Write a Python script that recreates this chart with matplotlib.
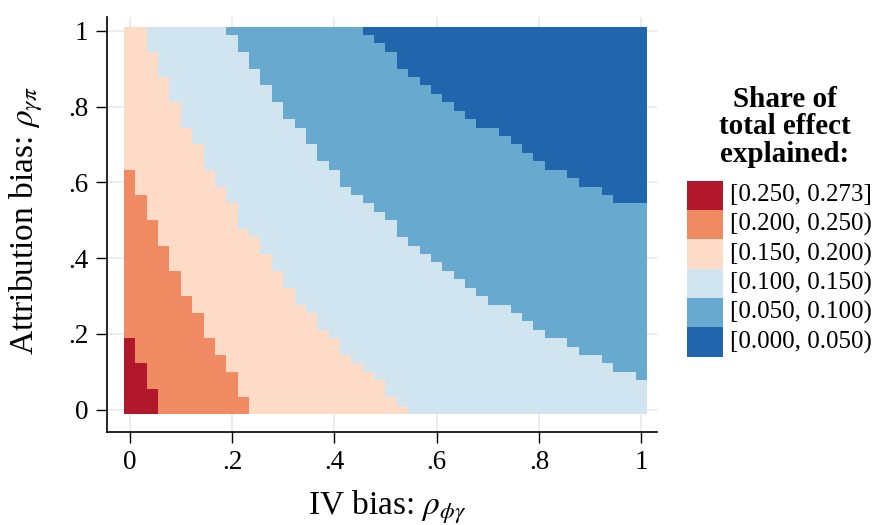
import numpy as np
import matplotlib
matplotlib.use("Agg")
import matplotlib.pyplot as plt
from matplotlib.colors import ListedColormap, BoundaryNorm
from matplotlib.patches import Rectangle

plt.rcParams['font.family'] = ['Liberation Serif', 'DejaVu Serif']
plt.rcParams['mathtext.fontset'] = 'stix'

# ---- data -------------------------------------------------------------
# grid of 46 x 46 points on [0, 1] (step 1/45) for both axes
n_grid = 46
x_min, x_max = 0.0, 1.0
y_min, y_max = 0.0, 1.0

# For each column (IV bias value), number of rows from the bottom whose
# share is at least the given threshold.
rows_ge_025 = [9, 6, 3, 0, 0, 0, 0, 0, 0, 0, 0, 0, 0, 0, 0, 0, 0, 0, 0, 0, 0, 0, 0,
               0, 0, 0, 0, 0, 0, 0, 0, 0, 0, 0, 0, 0, 0, 0, 0, 0, 0, 0, 0, 0, 0, 0]
rows_ge_020 = [29, 26, 23, 20, 17, 14, 12, 9, 7, 5, 2, 0, 0, 0, 0, 0, 0, 0, 0, 0, 0, 0, 0,
               0, 0, 0, 0, 0, 0, 0, 0, 0, 0, 0, 0, 0, 0, 0, 0, 0, 0, 0, 0, 0, 0, 0]
rows_ge_015 = [46, 46, 43, 40, 37, 34, 32, 29, 27, 25, 22, 21, 19, 17, 15, 13, 12, 10, 9, 7,
               6, 5, 4, 2, 1, 0, 0, 0, 0, 0, 0, 0, 0, 0, 0, 0, 0, 0, 0, 0, 0, 0, 0, 0, 0, 0]
rows_ge_010 = [46, 46, 46, 46, 46, 46, 46, 46, 46, 45, 43, 41, 39, 37, 35, 34, 32, 30, 29, 27,
               26, 25, 24, 23, 21, 20, 19, 18, 17, 16, 15, 14, 13, 13, 12, 11, 10, 9, 9, 8,
               7, 7, 6, 5, 5, 4]
rows_ge_005 = [46, 46, 46, 46, 46, 46, 46, 46, 46, 46, 46, 46, 46, 46, 46, 46, 46, 46, 46, 46,
               46, 45, 44, 43, 41, 40, 39, 38, 37, 36, 35, 34, 34, 33, 32, 31, 30, 29, 29, 28,
               27, 27, 26, 25, 25, 25]

level_bounds = [0.000, 0.050, 0.100, 0.150, 0.200, 0.250, 0.273]
level_colors = ['#2166ac', '#67a9cf', '#d1e5f0', '#fddbc7', '#ef8a62', '#b2182b']

x_ticks = [0, 0.2, 0.4, 0.6, 0.8, 1.0]
x_tick_labels = ['0', '.2', '.4', '.6', '.8', '1']
y_ticks = [0, 0.2, 0.4, 0.6, 0.8, 1.0]
y_tick_labels = ['0', '.2', '.4', '.6', '.8', '1']

# ---- build level grid -------------------------------------------------
rows = np.arange(n_grid)[:, None]
Z = np.zeros((n_grid, n_grid), dtype=int)
for counts in (rows_ge_005, rows_ge_010, rows_ge_015, rows_ge_020, rows_ge_025):
    Z += (rows < np.asarray(counts)[None, :]).astype(int)

dx = (x_max - x_min) / (n_grid - 1)
dy = (y_max - y_min) / (n_grid - 1)
x_edges = np.linspace(x_min - dx / 2, x_max + dx / 2, n_grid + 1)
y_edges = np.linspace(y_min - dy / 2, y_max + dy / 2, n_grid + 1)

cmap = ListedColormap(level_colors)
norm = BoundaryNorm(np.arange(-0.5, len(level_colors) + 0.5), cmap.N)

# ---- figure -------------------------------------------------------------
W, H = 876, 525
fig = plt.figure(figsize=(W / 100, H / 100), dpi=100)
ax_l, ax_r, ax_t, ax_b = 106.5, 657, 16.7, 431.5
ax = fig.add_axes([ax_l / W, (H - ax_b) / H, (ax_r - ax_l) / W, (ax_b - ax_t) / H])

ax.pcolormesh(x_edges, y_edges, Z, cmap=cmap, norm=norm, shading='flat',
              zorder=2, antialiased=False, edgecolors='none')

ax.set_xlim(-0.0453, 1.0307)
ax.set_ylim(-0.0572, 1.037)

ax.set_xticks(x_ticks)
ax.set_xticklabels(x_tick_labels)
ax.set_yticks(y_ticks)
ax.set_yticklabels(y_tick_labels)
ax.tick_params(axis='both', direction='out', length=8, width=1.0,
               labelsize=19.5, color='black')
ax.tick_params(axis='x', pad=5.5)
ax.tick_params(axis='y', pad=5.0)

ax.grid(True, color='#ebebeb', linewidth=1.3, zorder=0)
ax.set_axisbelow(True)

for side in ('top', 'right'):
    ax.spines[side].set_visible(False)
for side in ('left', 'bottom'):
    ax.spines[side].set_linewidth(1.2)
    ax.spines[side].set_color('black')

# axis titles
fig.text(387 / W, (H - 514) / H, r'IV bias: $\rho_{\phi\gamma}$',
         fontsize=24, ha='center', va='baseline')
fig.text(26 / W, (H - 221) / H, r'Attribution bias: $\rho_{\gamma\pi}$',
         fontsize=24, ha='center', va='center', rotation=90)

# ---- legend -------------------------------------------------------------
title_lines = ['Share of', 'total effect', 'explained:']
title_baselines = [107, 134.5, 162]
for line, yb in zip(title_lines, title_baselines):
    fig.text(785 / W, (H - yb) / H, line, fontsize=21, fontweight='bold',
             ha='center', va='baseline')

key_x0, key_x1 = 686.7, 723.3
key_top, key_h = 180.7, 29.33
n_lev = len(level_colors)
for k in range(n_lev):
    lev = n_lev - 1 - k
    lo, hi = level_bounds[lev], level_bounds[lev + 1]
    close = ']' if lev == n_lev - 1 else ')'
    label = f'[{lo:.3f}, {hi:.3f}{close}'
    y_top = key_top + k * key_h
    fig.patches.append(Rectangle((key_x0 / W, (H - y_top - key_h) / H),
                                 (key_x1 - key_x0) / W, key_h / H,
                                 transform=fig.transFigure, figure=fig,
                                 facecolor=level_colors[lev], edgecolor='none'))
    fig.text(730 / W, (H - (y_top + key_h / 2)) / H, label,
             fontsize=18, ha='left', va='center')

fig.savefig('out.png', dpi=100)
